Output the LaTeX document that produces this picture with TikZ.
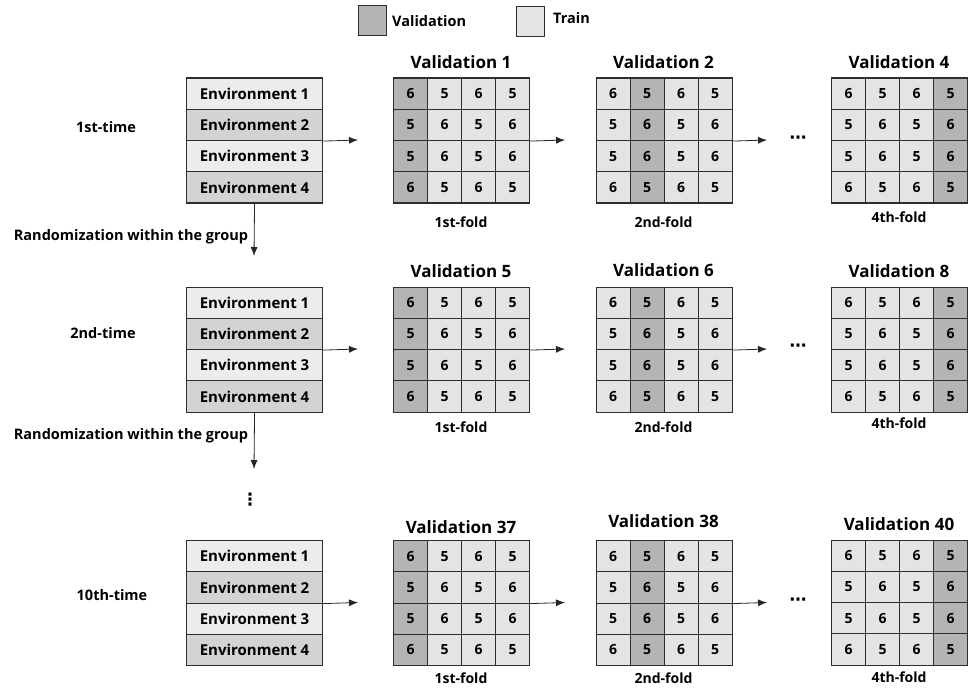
\documentclass[tikz,border=0pt]{standalone}
\usepackage{fontspec}
\setmainfont{Open Sans}
\newfontfamily\dejavu{DejaVu Sans}
\usetikzlibrary{arrows.meta}
\definecolor{valc}{HTML}{B4B4B4}
\definecolor{trc}{HTML}{E4E4E4}
\definecolor{envd}{HTML}{D3D3D3}
\definecolor{envl}{HTML}{ECECEC}
\definecolor{linec}{HTML}{2E2E2E}
\newcommand\foldgrid[4]{%
  \foreach \rr/\va/\vb/\vc/\vd in {1/6/5/6/5,2/5/6/5/6,3/5/6/5/6,4/6/5/6/5}{%
    \foreach \cc/\vv in {1/\va,2/\vb,3/\vc,4/\vd}{%
      \ifnum\cc=#4 \def\fillc{valc}\else\def\fillc{trc}\fi
      \node[cell, fill=\fillc, anchor=north west] (#1-\rr-\cc) at ({#2+(\cc-1)*34},{#3+(\rr-1)*31.25}) {\vv};
    }}}
\newcommand\envstack[3]{%
  \foreach \rr/\fc in {1/envl,2/envd,3/envl,4/envd}{%
    \node[envbox, fill=\fc, anchor=north west] (#1-\rr) at (#2,{#3+(\rr-1)*31.25}) {Environment \rr};
  }}
\begin{document}
\begin{tikzpicture}[x=1pt,y=-1pt,
  cell/.style={draw=linec, line width=1.1pt, minimum width=34pt, minimum height=31.25pt, inner sep=0pt, font=\fontsize{14}{14}\selectfont\bfseries},
  envbox/.style={draw=linec, line width=1.1pt, minimum width=136pt, minimum height=31.25pt, inner sep=0pt, font=\fontsize{15}{15}\selectfont\bfseries},
  legbox/.style={draw=linec, line width=1pt, minimum width=28pt, minimum height=30pt, inner sep=0pt},
  title/.style={inner sep=0pt, font=\fontsize{17}{17}\selectfont\bfseries},
  lbl/.style={inner sep=0pt, font=\fontsize{14.5}{14.5}\selectfont\bfseries},
  foldlbl/.style={inner sep=0pt, font=\fontsize{14}{14}\selectfont\bfseries},
  arr/.style={-{Latex[length=9pt,width=7pt]}, draw=black!85, line width=0.8pt},
  dots/.style={inner sep=0pt, font=\fontsize{17}{17}\selectfont\dejavu\bfseries}
]
\useasboundingbox (0,0) rectangle (970,690);
\fill[white] (0,0) rectangle (970,690);

% legend
\node[legbox, fill=valc] (lv) at (372,21) {};
\node[lbl, anchor=west] (lvt) at (392,21) {Validation};
\node[legbox, fill=trc] (lt) at (530,22) {};
\node[lbl, anchor=west] (ltt) at (553,18) {Train};

% ---------- row 1 ----------
\envstack{ea}{186}{77.5}
\node[lbl] (t1) at (106,127) {1st-time};
\foldgrid{ga}{393}{77.5}{1}
\foldgrid{gb}{595.5}{77.5}{2}
\foldgrid{gc}{831}{77.5}{4}
\node[title] (ta) at (461,62) {Validation 1};
\node[title] (tb) at (663.5,62) {Validation 2};
\node[title] (tc) at (899,62) {Validation 4};
\node[foldlbl] (fa) at (461,222) {1st-fold};
\node[foldlbl] (fb) at (663.5,222) {2nd-fold};
\node[foldlbl] (fc) at (899,217) {4th-fold};
\coordinate (xa1) at (358,140);
\coordinate (xa2) at (565,140);
\coordinate (xa3) at (767,140);
\draw[arr] (ea-2.south east) -- (xa1);
\draw[arr] (ga-2-4.south east) -- (xa2);
\draw[arr] (gb-2-4.south east) -- (xa3);
\node[dots] (da) at (798,140) {⋯};

% down arrow 1
\coordinate (dn1) at (254,256);
\draw[arr] (ea-4.south) -- (dn1);
\node[lbl] (ra) at (131,237) {Randomization within the group};

% ---------- row 2 ----------
\envstack{eb}{186}{286.5}
\node[lbl] (t2) at (103,333) {2nd-time};
\foldgrid{ha}{393}{286.5}{1}
\foldgrid{hb}{595.5}{286.5}{2}
\foldgrid{hc}{831}{286.5}{4}
\node[title] (ua) at (461,271) {Validation 5};
\node[title] (ub) at (663.5,270) {Validation 6};
\node[title] (uc) at (899,271) {Validation 8};
\node[foldlbl] (ga1) at (461,427) {1st-fold};
\node[foldlbl] (gb1) at (663.5,427) {2nd-fold};
\node[foldlbl] (gc1) at (899,423) {4th-fold};
\coordinate (xb1) at (358,349);
\coordinate (xb2) at (565,349);
\coordinate (xb3) at (767,349);
\draw[arr] (eb-2.south east) -- (xb1);
\draw[arr] (ha-2-4.south east) -- (xb2);
\draw[arr] (hb-2-4.south east) -- (xb3);
\node[dots] (db) at (798,348) {⋯};

% down arrow 2
\coordinate (dn2) at (254,469);
\draw[arr] (eb-4.south) -- (dn2);
\node[lbl] (rb) at (131,436) {Randomization within the group};
\node[dots] (vd) at (250,500) {⋮};

% ---------- row 3 ----------
\envstack{ec}{186}{540}
\node[lbl] (t3) at (112,595) {10th-time};
\foldgrid{ka}{393}{540}{1}
\foldgrid{kb}{595.5}{540}{2}
\foldgrid{kc}{831}{539.5}{4}
\node[title] (va) at (461,527) {Validation 37};
\node[title] (vb) at (663.5,521) {Validation 38};
\node[title] (vc) at (899,524) {Validation 40};
\node[foldlbl] (ka1) at (461,678) {1st-fold};
\node[foldlbl] (kb1) at (663.5,678) {2nd-fold};
\node[foldlbl] (kc1) at (899,677) {4th-fold};
\coordinate (xc1) at (358,602.5);
\coordinate (xc2) at (565,602.5);
\coordinate (xc3) at (767,602.5);
\draw[arr] (ec-2.south east) -- (xc1);
\draw[arr] (ka-2-4.south east) -- (xc2);
\draw[arr] (kb-2-4.south east) -- (xc3);
\node[dots] (dc) at (798,602) {⋯};
\end{tikzpicture}
\end{document}
